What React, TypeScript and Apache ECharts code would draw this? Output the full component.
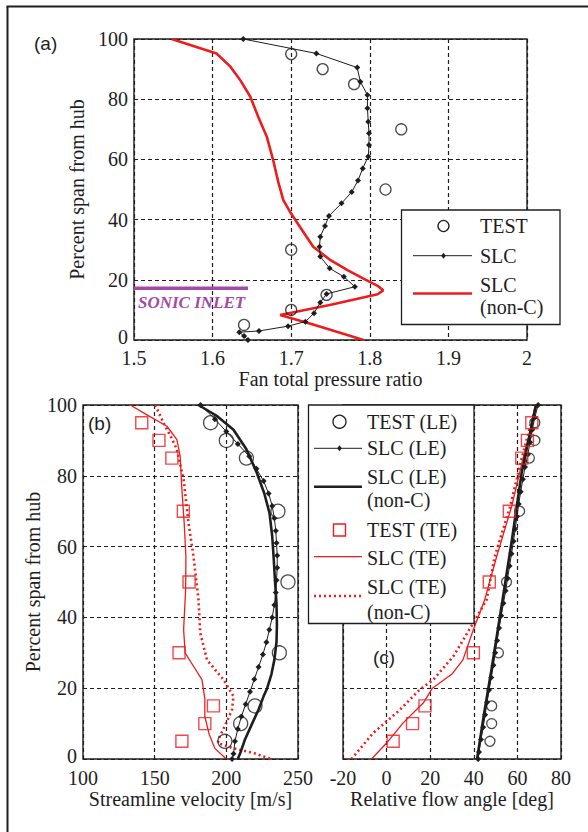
import React, { useEffect, useRef } from "react";
import * as echarts from "echarts";

// ---------- Panel (a): fan total pressure ratio ----------
const testA: number[][] = [
  [1.70, 95], [1.74, 90], [1.78, 85], [1.84, 70], [1.82, 50],
  [1.70, 30], [1.745, 15], [1.70, 10], [1.64, 5],
];
const slcA: number[][] = [
  [1.639, 100], [1.732, 95.2], [1.784, 90.5], [1.788, 85.8], [1.797, 81.4],
  [1.797, 77], [1.798, 72.5], [1.799, 68.7], [1.799, 64.8], [1.798, 61],
  [1.791, 57], [1.785, 53], [1.777, 49.2], [1.764, 45.4], [1.748, 41.2],
  [1.743, 37.9], [1.737, 34.3], [1.736, 31], [1.737, 27.7], [1.749, 23.8],
  [1.767, 21], [1.781, 17.7], [1.745, 15.3], [1.737, 12.5], [1.729, 8.9],
  [1.718, 6.1], [1.696, 4.6], [1.659, 3], [1.634, 2.6], [1.64, 1.3], [1.645, 0],
];
const slcNonCA: number[][] = [
  [1.548, 100], [1.605, 95.2], [1.622, 91], [1.635, 86.4], [1.648, 80.8],
  [1.658, 74.2], [1.669, 67.5], [1.677, 59.8], [1.684, 52], [1.69, 46.5],
  [1.698, 42.8], [1.711, 37.6], [1.728, 31], [1.75, 26.5], [1.771, 23.3],
  [1.795, 20], [1.81, 18], [1.817, 16.5], [1.81, 15.2], [1.749, 11.6],
  [1.686, 8.3], [1.73, 5], [1.792, 0],
];
const sonicInlet: number[][] = [[1.5, 17.2], [1.645, 17.2]];

// ---------- Panel (b): streamline velocity ----------
const testLEb: number[][] = [
  [189, 95], [200, 90], [214, 85], [236, 70], [243, 50],
  [237, 30], [220, 15], [210, 10], [199, 5],
];
const testTEb: number[][] = [
  [141, 95], [153, 90], [162, 85], [170, 70], [174, 50],
  [167, 30], [191, 15], [185, 10], [169, 5],
];
const slcLEb: number[][] = [
  [182, 100], [192, 96], [200, 92.5], [208, 89], [216, 85.5], [221, 82],
  [226, 78.5], [229.5, 75], [232, 71.5], [233.5, 68], [234.5, 64.5], [235, 61],
  [235.5, 57.5], [235.5, 54], [235, 50.5], [234.5, 47], [233.5, 43.5], [232, 40],
  [230, 36.5], [228, 33], [225.5, 29.5], [222.5, 26], [219.5, 22.5], [216.5, 19],
  [213.5, 15.5], [210.5, 12], [208, 8.5], [206, 5], [205, 1.5], [204, 0],
];
const slcNonCLEb: number[][] = [
  [180.6, 100], [193, 97], [205, 93], [214, 87.5], [221.3, 80.8], [226.5, 75],
  [230.1, 69.5], [232, 63], [233, 57], [234, 50], [235, 44], [235.3, 38],
  [235, 33], [233.5, 28], [231.5, 24], [228.5, 20], [226, 17.7], [222.5, 14],
  [218, 10], [213, 5.5], [210, 2], [208, 0],
];
const slcTEb: number[][] = [
  [133, 100], [144.6, 97.2], [158.6, 94], [165.5, 90.2], [167.8, 85.5],
  [169, 76.1], [170.6, 66.7], [171.8, 57.2], [171.6, 47.8], [170.2, 36.5],
  [171.3, 29.9], [177.1, 26.2], [183, 22.4], [185, 17], [185, 12],
  [188, 7], [192, 3], [200, 0],
];
const slcNonCTEb: number[][] = [
  [150.4, 100], [156.2, 94.9], [162, 90.5], [165.5, 87.4], [170.2, 78.9],
  [173.6, 66.7], [177.1, 57.2], [180.6, 45], [181.8, 35.6], [186.5, 28],
  [198, 22.4], [205, 17.7], [204, 14], [200, 10.2], [195, 6], [194, 4.5],
  [205, 3], [219, 1.7], [231, 0],
];

// ---------- Panel (c): relative flow angle ----------
const testLEc: number[][] = [
  [68, 95], [68, 90], [65.5, 85], [61, 70], [55, 50],
  [51.3, 30], [48.2, 15], [48.2, 10], [47.4, 5],
];
const testTEc: number[][] = [
  [66.6, 95], [64.6, 90], [62, 85], [56.3, 70], [47.1, 50],
  [39.8, 30], [17.6, 15], [11.9, 10], [3, 5],
];
const slcLEc: number[][] = [
  [69.5, 100], [68, 96.5], [66.8, 93], [65.8, 89.5], [64.8, 86], [63.5, 82.5],
  [62.5, 79], [61.5, 75.5], [60.6, 72], [59.8, 68.5], [59, 65], [58.2, 61.5],
  [57.3, 58], [56.4, 54.5], [55.5, 51], [54.6, 47.5], [53.6, 44], [52.6, 40.5],
  [51.6, 37], [50.7, 33.5], [49.8, 30], [49, 26.5], [48, 23], [47, 19.5],
  [46.1, 16], [45.2, 12.5], [44.3, 9], [43.3, 5.5], [42.4, 2], [42, 0],
];
const slcNonCLEc: number[][] = [
  [68.5, 100], [62, 81], [57.5, 62], [53.2, 45], [48.3, 26], [44.5, 12], [41.5, 0],
];
const slcTEc: number[][] = [
  [68.9, 100], [66, 93], [62.8, 85.5], [57.4, 71.4], [50.5, 57.2], [45, 45],
  [39.5, 36], [35, 28], [30, 24], [21, 20], [16.8, 15.8], [7.6, 10.2],
  [0, 4.5], [-6.9, 0],
];
const slcNonCTEc: number[][] = [
  [68.5, 100], [65.5, 93], [62, 85], [56.5, 71], [49.5, 57], [45.9, 45],
  [40.6, 39.3], [35.2, 33.7], [30.6, 29], [21.4, 22.4], [15, 19.5], [6.1, 13.9],
  [-6.2, 7.3], [-16.1, 0],
];

// ---------- axis titles ----------
const spanTitle = "Percent span from hub";
const xTitleA = "Fan total pressure ratio";
const xTitleB = "Streamline velocity [m/s]";
const xTitleC = "Relative flow angle [deg]";

const SERIF = "Liberation Serif, DejaVu Serif, serif";
const SANS = "Liberation Sans, Arial, sans-serif";
const INK = "#1e1e1e";
const RED = "#ee1c1c";
const PURPLE = "#a24aa8";

function App() {
  const ref = useRef<HTMLDivElement>(null);
  useEffect(() => {
    if (!ref.current) return;
    const chart = echarts.init(ref.current, undefined, { renderer: "svg" });

    const dash = { color: INK, width: 1.2, type: [4, 3] as number[] };
    const labelStyle = { fontFamily: SERIF, fontSize: 20, color: INK };
    const nameStyle = { fontFamily: SERIF, fontSize: 20, color: INK };

    const mkX = (min: number, max: number, interval: number, name: string, margin: number) => ({
      type: "value",
      min,
      max,
      interval,
      name,
      nameLocation: "middle",
      nameGap: 28,
      nameTextStyle: nameStyle,
      axisLine: { show: false },
      axisTick: { show: false },
      axisLabel: { ...labelStyle, margin },
      splitLine: { show: true, lineStyle: dash },
    });
    const mkY = (showLabels: boolean, name: string, gap: number) => ({
      type: "value",
      min: 0,
      max: 100,
      interval: 20,
      name,
      nameLocation: "middle",
      nameGap: gap,
      nameTextStyle: nameStyle,
      axisLine: { show: false },
      axisTick: { show: false },
      axisLabel: {
        ...labelStyle,
        margin: 6,
        show: showLabels,
        formatter: (v: number) => (v === 0 ? "{z|0}" : String(v)),
        rich: { z: { ...labelStyle, padding: [0, 0, 7, 0] } },
      },
      splitLine: { show: true, lineStyle: dash },
    });

    const circle = (size: number) => ({
      type: "scatter",
      symbol: "circle",
      symbolSize: size,
      itemStyle: { color: "rgba(0,0,0,0)", borderColor: INK, borderWidth: 1.3 },
      z: 5,
    });
    const square = (size: number) => ({
      type: "scatter",
      symbol: "rect",
      symbolSize: size,
      itemStyle: { color: "rgba(0,0,0,0)", borderColor: RED, borderWidth: 1.4 },
      z: 5,
    });
    const markerLine = {
      type: "line",
      symbol: "diamond",
      symbolSize: 6,
      showSymbol: true,
      itemStyle: { color: INK },
      lineStyle: { color: INK, width: 1 },
      z: 4,
    };
    const plain = (color: string, width: number, type: any = "solid") => ({
      type: "line",
      symbol: "none",
      lineStyle: { color, width, type },
      z: 3,
    });

    const diamond = (cx: number, cy: number, r: number) => ({
      type: "polygon",
      shape: { points: [[cx, cy - r], [cx + r * 0.75, cy], [cx, cy + r], [cx - r * 0.75, cy]] },
      style: { fill: INK },
      z: 102,
    });
    const txt = (x: number, y: number, text: string, extra: any = {}) => ({
      type: "text",
      x,
      y,
      z: 102,
      style: {
        text,
        fontFamily: SERIF,
        fontSize: 20,
        fill: INK,
        textVerticalAlign: "middle",
        ...extra,
      },
    });
    const hline = (x1: number, x2: number, y: number, stroke: string, lineWidth: number, lineDash?: number[]) => ({
      type: "line",
      z: 102,
      shape: { x1, y1: y, x2, y2: y },
      style: { stroke, lineWidth, lineDash },
    });

    const option: any = {
      animation: false,
      backgroundColor: "#ffffff",
      grid: [
        { left: 134, top: 39, width: 393, height: 301, show: true, borderColor: INK, borderWidth: 1.4, backgroundColor: "transparent" },
        { left: 83, top: 405, width: 215, height: 354, show: true, borderColor: INK, borderWidth: 1.4, backgroundColor: "transparent" },
        { left: 343, top: 405, width: 218, height: 354, show: true, borderColor: INK, borderWidth: 1.4, backgroundColor: "transparent" },
      ],
      xAxis: [
        { ...mkX(1.5, 2, 0.1, xTitleA, 8), gridIndex: 0 },
        { ...mkX(100, 250, 50, xTitleB, 9), gridIndex: 1 },
        { ...mkX(-20, 80, 20, xTitleC, 9), gridIndex: 2 },
      ],
      yAxis: [
        { ...mkY(true, spanTitle, 41), gridIndex: 0 },
        { ...mkY(true, spanTitle, 32), gridIndex: 1 },
        { ...mkY(false, "", 10), gridIndex: 2 },
      ],
      series: [
        // (a)
        { ...plain(RED, 2.6), name: "SLC (non-C)", data: slcNonCA, xAxisIndex: 0, yAxisIndex: 0 },
        { ...markerLine, name: "SLC", data: slcA, xAxisIndex: 0, yAxisIndex: 0 },
        { ...circle(11), name: "TEST", data: testA, xAxisIndex: 0, yAxisIndex: 0 },
        { ...plain(PURPLE, 3.5), name: "Sonic inlet", data: sonicInlet, xAxisIndex: 0, yAxisIndex: 0, clip: false },
        // (b)
        { ...plain(RED, 1.3), name: "SLC (TE)", data: slcTEb, xAxisIndex: 1, yAxisIndex: 1 },
        { ...plain(RED, 2.6, [2, 3]), name: "SLC (TE) (non-C)", data: slcNonCTEb, xAxisIndex: 1, yAxisIndex: 1 },
        { ...plain(INK, 2.6), name: "SLC (LE) (non-C)", data: slcNonCLEb, xAxisIndex: 1, yAxisIndex: 1 },
        { ...markerLine, name: "SLC (LE)", data: slcLEb, xAxisIndex: 1, yAxisIndex: 1 },
        { ...circle(14), name: "TEST (LE)", data: testLEb, xAxisIndex: 1, yAxisIndex: 1 },
        { ...square(12), name: "TEST (TE)", data: testTEb, xAxisIndex: 1, yAxisIndex: 1 },
        // (c)
        { ...plain(RED, 1.3), name: "SLC (TE) c", data: slcTEc, xAxisIndex: 2, yAxisIndex: 2 },
        { ...plain(RED, 2.6, [2, 3]), name: "SLC (TE) (non-C) c", data: slcNonCTEc, xAxisIndex: 2, yAxisIndex: 2 },
        { ...plain(INK, 2.6), name: "SLC (LE) (non-C) c", data: slcNonCLEc, xAxisIndex: 2, yAxisIndex: 2 },
        { ...markerLine, name: "SLC (LE) c", data: slcLEc, xAxisIndex: 2, yAxisIndex: 2 },
        { ...circle(10), name: "TEST (LE) c", data: testLEc, xAxisIndex: 2, yAxisIndex: 2 },
        { ...square(12), name: "TEST (TE) c", data: testTEc, xAxisIndex: 2, yAxisIndex: 2 },
      ],
      graphic: [
        // outer frame (left and top edges visible)
        { type: "line", z: 102, shape: { x1: 7.5, y1: 6.5, x2: 7.5, y2: 832 }, style: { stroke: INK, lineWidth: 2 } },
        { type: "line", z: 102, shape: { x1: 6.5, y1: 6.5, x2: 588, y2: 6.5 }, style: { stroke: INK, lineWidth: 2 } },
        // panel labels
        txt(34, 43, "(a)", { fontFamily: SANS, fontSize: 19 }),
        txt(88, 423, "(b)", { fontFamily: SANS, fontSize: 19 }),
        txt(373, 657, "(c)", { fontFamily: SANS, fontSize: 19 }),
        txt(138, 302, "SONIC INLET", { fontStyle: "italic", fontWeight: "bold", fontSize: 17, fill: PURPLE }),
        // legend (a)
        { type: "rect", z: 101, shape: { x: 401.5, y: 210, width: 158.5, height: 114.5 }, style: { fill: "#fff", stroke: INK, lineWidth: 1.3 } },
        { type: "circle", z: 102, shape: { cx: 443.5, cy: 226, r: 5.5 }, style: { fill: "none", stroke: INK, lineWidth: 1.3 } },
        txt(480, 226, "TEST"),
        hline(413, 472, 255.7, INK, 1),
        diamond(443.5, 255.7, 3),
        txt(480, 255.7, "SLC"),
        hline(413, 472, 293.5, RED, 2.6),
        txt(480, 285, "SLC"),
        txt(480, 307, "(non-C)"),
        // legend (b)/(c)
        { type: "rect", z: 101, shape: { x: 308.5, y: 405, width: 165.5, height: 218.5 }, style: { fill: "#fff", stroke: INK, lineWidth: 1.3 } },
        { type: "circle", z: 102, shape: { cx: 339.5, cy: 421.7, r: 6.5 }, style: { fill: "none", stroke: INK, lineWidth: 1.3 } },
        txt(367, 421.7, "TEST (LE)"),
        hline(314, 362, 448.3, INK, 1),
        diamond(339.5, 448.3, 3),
        txt(367, 448.3, "SLC (LE)"),
        hline(314, 362, 486.7, INK, 2.6),
        txt(367, 476.7, "SLC (LE)"),
        txt(367, 500, "(non-C)"),
        { type: "rect", z: 102, shape: { x: 333.5, y: 524, width: 12, height: 12 }, style: { fill: "none", stroke: RED, lineWidth: 1.4 } },
        txt(367, 530, "TEST (TE)"),
        hline(314, 362, 556.7, RED, 1.3),
        txt(367, 558.3, "SLC (TE)"),
        hline(314, 362, 596, RED, 2.6, [2, 3]),
        txt(367, 586.7, "SLC (TE)"),
        txt(367, 611.7, "(non-C)"),
      ],
    };
    chart.setOption(option);
    return () => chart.dispose();
  }, []);

  return (
    <div
      ref={ref}
      style={{ position: "absolute", left: 0, top: 0, width: 588, height: 832, background: "#fff" }}
    />
  );
}

export default App;
